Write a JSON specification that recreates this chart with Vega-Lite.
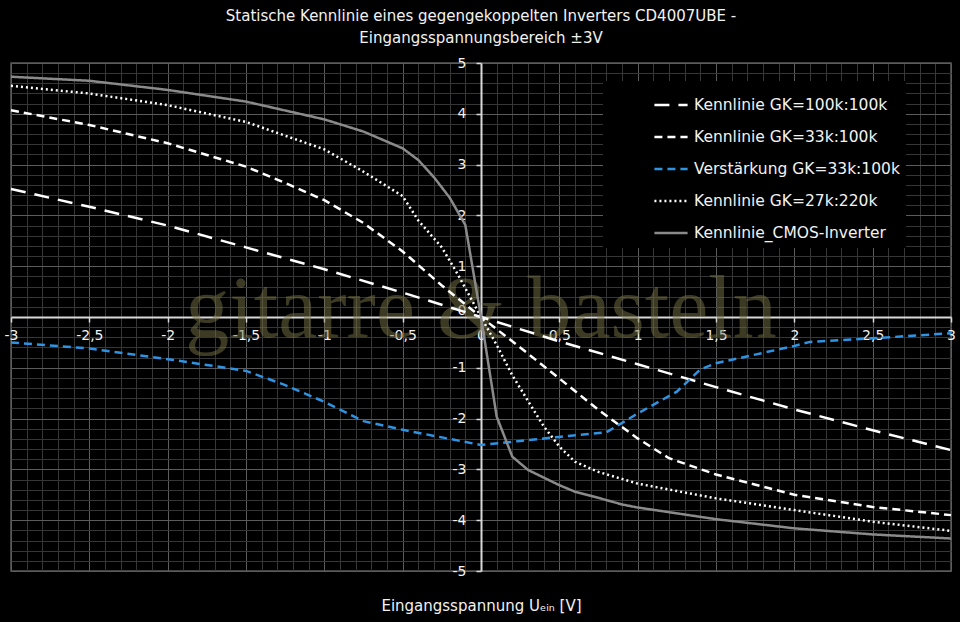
{
  "$schema": "https://vega.github.io/schema/vega-lite/v6.json",
  "width": 940,
  "height": 508,
  "autosize": "none",
  "padding": {"left": 11, "top": 63, "right": 9, "bottom": 51},
  "background": "black",
  "title": {
    "text": ["Statische Kennlinie eines gegengekoppelten Inverters CD4007UBE -", "Eingangsspannungsbereich ±3V"],
    "font": "DejaVu Sans",
    "fontSize": 15,
    "fontWeight": "normal",
    "color": "#f2f2f2",
    "lineHeight": 22,
    "anchor": "middle",
    "frame": "group",
    "offset": 10
  },
  "config": {
    "font": "DejaVu Sans",
    "view": {"stroke": "#5a5a5a", "strokeWidth": 1.5}
  },
  "data": {
    "values": [
      {"s": "Kennlinie GK=100k:100k", "x": -3, "y": 2.52},
      {"s": "Kennlinie GK=100k:100k", "x": -2.5, "y": 2.17},
      {"s": "Kennlinie GK=100k:100k", "x": -2, "y": 1.8},
      {"s": "Kennlinie GK=100k:100k", "x": -1.5, "y": 1.37},
      {"s": "Kennlinie GK=100k:100k", "x": -1, "y": 0.94},
      {"s": "Kennlinie GK=100k:100k", "x": -0.5, "y": 0.48},
      {"s": "Kennlinie GK=100k:100k", "x": 0, "y": 0},
      {"s": "Kennlinie GK=100k:100k", "x": 0.5, "y": -0.48},
      {"s": "Kennlinie GK=100k:100k", "x": 1, "y": -0.93},
      {"s": "Kennlinie GK=100k:100k", "x": 1.5, "y": -1.38},
      {"s": "Kennlinie GK=100k:100k", "x": 2, "y": -1.82},
      {"s": "Kennlinie GK=100k:100k", "x": 2.5, "y": -2.23},
      {"s": "Kennlinie GK=100k:100k", "x": 3, "y": -2.62},

      {"s": "Kennlinie GK=33k:100k", "x": -3, "y": 4.07},
      {"s": "Kennlinie GK=33k:100k", "x": -2.5, "y": 3.78},
      {"s": "Kennlinie GK=33k:100k", "x": -2, "y": 3.42},
      {"s": "Kennlinie GK=33k:100k", "x": -1.5, "y": 2.96},
      {"s": "Kennlinie GK=33k:100k", "x": -1.25, "y": 2.64},
      {"s": "Kennlinie GK=33k:100k", "x": -1, "y": 2.3},
      {"s": "Kennlinie GK=33k:100k", "x": -0.75, "y": 1.85},
      {"s": "Kennlinie GK=33k:100k", "x": -0.5, "y": 1.29},
      {"s": "Kennlinie GK=33k:100k", "x": -0.25, "y": 0.62},
      {"s": "Kennlinie GK=33k:100k", "x": 0, "y": 0},
      {"s": "Kennlinie GK=33k:100k", "x": 0.25, "y": -0.6},
      {"s": "Kennlinie GK=33k:100k", "x": 0.5, "y": -1.21},
      {"s": "Kennlinie GK=33k:100k", "x": 0.75, "y": -1.83},
      {"s": "Kennlinie GK=33k:100k", "x": 1, "y": -2.39},
      {"s": "Kennlinie GK=33k:100k", "x": 1.2, "y": -2.78},
      {"s": "Kennlinie GK=33k:100k", "x": 1.5, "y": -3.1},
      {"s": "Kennlinie GK=33k:100k", "x": 2, "y": -3.5},
      {"s": "Kennlinie GK=33k:100k", "x": 2.5, "y": -3.74},
      {"s": "Kennlinie GK=33k:100k", "x": 3, "y": -3.9},

      {"s": "Verstärkung GK=33k:100k", "x": -3, "y": -0.5},
      {"s": "Verstärkung GK=33k:100k", "x": -2.5, "y": -0.62},
      {"s": "Verstärkung GK=33k:100k", "x": -2, "y": -0.83},
      {"s": "Verstärkung GK=33k:100k", "x": -1.5, "y": -1.06},
      {"s": "Verstärkung GK=33k:100k", "x": -1.25, "y": -1.34},
      {"s": "Verstärkung GK=33k:100k", "x": -1, "y": -1.67},
      {"s": "Verstärkung GK=33k:100k", "x": -0.75, "y": -2.05},
      {"s": "Verstärkung GK=33k:100k", "x": -0.5, "y": -2.22},
      {"s": "Verstärkung GK=33k:100k", "x": -0.25, "y": -2.37},
      {"s": "Verstärkung GK=33k:100k", "x": 0, "y": -2.52},
      {"s": "Verstärkung GK=33k:100k", "x": 0.25, "y": -2.44},
      {"s": "Verstärkung GK=33k:100k", "x": 0.5, "y": -2.36},
      {"s": "Verstärkung GK=33k:100k", "x": 0.8, "y": -2.27},
      {"s": "Verstärkung GK=33k:100k", "x": 1, "y": -1.9},
      {"s": "Verstärkung GK=33k:100k", "x": 1.25, "y": -1.47},
      {"s": "Verstärkung GK=33k:100k", "x": 1.4, "y": -1.03},
      {"s": "Verstärkung GK=33k:100k", "x": 1.5, "y": -0.91},
      {"s": "Verstärkung GK=33k:100k", "x": 2, "y": -0.57},
      {"s": "Verstärkung GK=33k:100k", "x": 2.1, "y": -0.49},
      {"s": "Verstärkung GK=33k:100k", "x": 2.5, "y": -0.42},
      {"s": "Verstärkung GK=33k:100k", "x": 3, "y": -0.32},

      {"s": "Kennlinie GK=27k:220k", "x": -3, "y": 4.55},
      {"s": "Kennlinie GK=27k:220k", "x": -2.5, "y": 4.4},
      {"s": "Kennlinie GK=27k:220k", "x": -2, "y": 4.17},
      {"s": "Kennlinie GK=27k:220k", "x": -1.5, "y": 3.84},
      {"s": "Kennlinie GK=27k:220k", "x": -1, "y": 3.3},
      {"s": "Kennlinie GK=27k:220k", "x": -0.75, "y": 2.86},
      {"s": "Kennlinie GK=27k:220k", "x": -0.5, "y": 2.38},
      {"s": "Kennlinie GK=27k:220k", "x": -0.4, "y": 1.9},
      {"s": "Kennlinie GK=27k:220k", "x": -0.25, "y": 1.37},
      {"s": "Kennlinie GK=27k:220k", "x": -0.15, "y": 0.85},
      {"s": "Kennlinie GK=27k:220k", "x": 0, "y": 0},
      {"s": "Kennlinie GK=27k:220k", "x": 0.1, "y": -0.55},
      {"s": "Kennlinie GK=27k:220k", "x": 0.2, "y": -1.15},
      {"s": "Kennlinie GK=27k:220k", "x": 0.3, "y": -1.65},
      {"s": "Kennlinie GK=27k:220k", "x": 0.4, "y": -2.15},
      {"s": "Kennlinie GK=27k:220k", "x": 0.5, "y": -2.55},
      {"s": "Kennlinie GK=27k:220k", "x": 0.6, "y": -2.85},
      {"s": "Kennlinie GK=27k:220k", "x": 0.75, "y": -3.05},
      {"s": "Kennlinie GK=27k:220k", "x": 1, "y": -3.28},
      {"s": "Kennlinie GK=27k:220k", "x": 1.5, "y": -3.57},
      {"s": "Kennlinie GK=27k:220k", "x": 2, "y": -3.8},
      {"s": "Kennlinie GK=27k:220k", "x": 2.5, "y": -4.03},
      {"s": "Kennlinie GK=27k:220k", "x": 3, "y": -4.21},

      {"s": "Kennlinie_CMOS-Inverter", "x": -3, "y": 4.73},
      {"s": "Kennlinie_CMOS-Inverter", "x": -2.5, "y": 4.65},
      {"s": "Kennlinie_CMOS-Inverter", "x": -2, "y": 4.47},
      {"s": "Kennlinie_CMOS-Inverter", "x": -1.5, "y": 4.24},
      {"s": "Kennlinie_CMOS-Inverter", "x": -1, "y": 3.89},
      {"s": "Kennlinie_CMOS-Inverter", "x": -0.75, "y": 3.65},
      {"s": "Kennlinie_CMOS-Inverter", "x": -0.5, "y": 3.32},
      {"s": "Kennlinie_CMOS-Inverter", "x": -0.4, "y": 3.09},
      {"s": "Kennlinie_CMOS-Inverter", "x": -0.3, "y": 2.75},
      {"s": "Kennlinie_CMOS-Inverter", "x": -0.2, "y": 2.35},
      {"s": "Kennlinie_CMOS-Inverter", "x": -0.1, "y": 1.81},
      {"s": "Kennlinie_CMOS-Inverter", "x": 0, "y": 0},
      {"s": "Kennlinie_CMOS-Inverter", "x": 0.1, "y": -1.96},
      {"s": "Kennlinie_CMOS-Inverter", "x": 0.2, "y": -2.75},
      {"s": "Kennlinie_CMOS-Inverter", "x": 0.3, "y": -3.01},
      {"s": "Kennlinie_CMOS-Inverter", "x": 0.5, "y": -3.31},
      {"s": "Kennlinie_CMOS-Inverter", "x": 0.6, "y": -3.44},
      {"s": "Kennlinie_CMOS-Inverter", "x": 0.75, "y": -3.56},
      {"s": "Kennlinie_CMOS-Inverter", "x": 0.9, "y": -3.69},
      {"s": "Kennlinie_CMOS-Inverter", "x": 1, "y": -3.75},
      {"s": "Kennlinie_CMOS-Inverter", "x": 1.5, "y": -3.98},
      {"s": "Kennlinie_CMOS-Inverter", "x": 2, "y": -4.16},
      {"s": "Kennlinie_CMOS-Inverter", "x": 2.5, "y": -4.28},
      {"s": "Kennlinie_CMOS-Inverter", "x": 3, "y": -4.36}
    ]
  },
  "layer": [
    {
      "mark": {"type": "line", "opacity": 0},
      "encoding": {
        "detail": {"field": "s"},
        "x": {
          "field": "x", "type": "quantitative",
          "scale": {"domain": [-3, 3], "nice": false, "zero": false},
          "axis": {
            "orient": "bottom", "title": null, "labels": false, "ticks": false, "domain": false,
            "grid": true, "gridColor": "#363636", "gridWidth": 1,
            "values": [-3,-2.9,-2.8,-2.7,-2.6,-2.5,-2.4,-2.3,-2.2,-2.1,-2,-1.9,-1.8,-1.7,-1.6,-1.5,-1.4,-1.3,-1.2,-1.1,-1,-0.9,-0.8,-0.7,-0.6,-0.5,-0.4,-0.3,-0.2,-0.1,0,0.1,0.2,0.3,0.4,0.5,0.6,0.7,0.8,0.9,1,1.1,1.2,1.3,1.4,1.5,1.6,1.7,1.8,1.9,2,2.1,2.2,2.3,2.4,2.5,2.6,2.7,2.8,2.9,3]
          }
        },
        "y": {
          "field": "y", "type": "quantitative",
          "scale": {"domain": [-5, 5], "nice": false, "zero": false},
          "axis": {
            "orient": "left", "title": null, "labels": false, "ticks": false, "domain": false,
            "grid": true, "gridColor": "#363636", "gridWidth": 1,
            "values": [-5,-4.8,-4.6,-4.4,-4.2,-4,-3.8,-3.6,-3.4,-3.2,-3,-2.8,-2.6,-2.4,-2.2,-2,-1.8,-1.6,-1.4,-1.2,-1,-0.8,-0.6,-0.4,-0.2,0,0.2,0.4,0.6,0.8,1,1.2,1.4,1.6,1.8,2,2.2,2.4,2.6,2.8,3,3.2,3.4,3.6,3.8,4,4.2,4.4,4.6,4.8,5]
          }
        }
      }
    },
    {
      "mark": {"type": "line", "opacity": 0},
      "encoding": {
        "detail": {"field": "s"},
        "x": {
          "field": "x", "type": "quantitative",
          "axis": {
            "orient": "bottom", "title": null, "labels": false, "ticks": false, "domain": false,
            "grid": true, "gridColor": "#5c5c5c", "gridWidth": 1,
            "values": [-3,-2.5,-2,-1.5,-1,-0.5,0,0.5,1,1.5,2,2.5,3]
          }
        },
        "y": {
          "field": "y", "type": "quantitative",
          "axis": {
            "orient": "left", "title": null, "labels": false, "ticks": false, "domain": false,
            "grid": true, "gridColor": "#5c5c5c", "gridWidth": 1,
            "values": [-5,-4,-3,-2,-1,0,1,2,3,4,5]
          }
        }
      }
    },
    {
      "data": {"values": [{"wm": "gitarre & basteln"}]},
      "mark": {"type": "text", "font": "Liberation Serif", "fontSize": 88, "fill": "#7a7548", "opacity": 0.5, "align": "center", "baseline": "middle", "dy": -6},
      "encoding": {
        "text": {"field": "wm"},
        "x": {"datum": 0, "type": "quantitative", "axis": null},
        "y": {"datum": 0, "type": "quantitative", "axis": null}
      }
    },
    {
      "mark": {"type": "line", "strokeWidth": 2.5},
      "encoding": {
        "x": {
          "field": "x", "type": "quantitative",
          "axis": {
            "orient": "bottom", "offset": -254, "grid": false,
            "values": [-3,-2.5,-2,-1.5,-1,-0.5,0,0.5,1,1.5,2,2.5,3],
            "domainColor": "#d9d9d9", "domainWidth": 2,
            "tickColor": "#d9d9d9", "tickSize": 5, "tickWidth": 1.5,
            "labelColor": "#f2f2f2", "labelFontSize": 14, "labelPadding": 6,
            "labelFlush": false, "labelOverlap": false,
            "labelExpr": "replace(toString(datum.value), '.', ',')",
            "title": "Eingangsspannung Uₑᵢₙ [V]",
            "titleColor": "#f2f2f2", "titleFontSize": 15, "titleFontWeight": "normal",
            "titleY": 288, "titleBaseline": "middle"
          }
        },
        "y": {
          "field": "y", "type": "quantitative",
          "axis": {
            "orient": "left", "offset": -470, "grid": false,
            "values": [-5,-4,-3,-2,-1,0,1,2,3,4,5],
            "domainColor": "#d9d9d9", "domainWidth": 2,
            "tickColor": "#d9d9d9", "tickSize": 5, "tickWidth": 1.5,
            "labelColor": "#f2f2f2", "labelFontSize": 14, "labelPadding": 10,
            "labelExpr": "replace(toString(datum.value), '.', ',')",
            "labelBaseline": {"condition": {"test": "datum.value === 0", "value": "bottom"}, "value": "middle"},
            "title": null
          }
        },
        "color": {
          "field": "s", "type": "nominal",
          "scale": {
            "domain": ["Kennlinie GK=100k:100k", "Kennlinie GK=33k:100k", "Verstärkung GK=33k:100k", "Kennlinie GK=27k:220k", "Kennlinie_CMOS-Inverter"],
            "range": ["#ffffff", "#ffffff", "#2f93e4", "#ffffff", "#8a8a8a"]
          },
          "legend": {
            "title": null, "orient": "none", "legendX": 592, "legendY": 18,
            "fillColor": "black", "padding": 6, "symbolOffset": 44,
            "symbolType": "stroke", "symbolSize": 1100, "symbolStrokeWidth": 2.5,
            "labelColor": "#f2f2f2", "labelFontSize": 15.5, "labelLimit": 400, "labelOffset": 5,
            "rowPadding": 5
          }
        },
        "strokeDash": {
          "field": "s", "type": "nominal",
          "scale": {
            "domain": ["Kennlinie GK=100k:100k", "Kennlinie GK=33k:100k", "Verstärkung GK=33k:100k", "Kennlinie GK=27k:220k", "Kennlinie_CMOS-Inverter"],
            "range": [[15, 9], [8, 5], [8, 5], [2, 3], [1, 0]]
          },
          "legend": {
            "title": null, "orient": "none", "legendX": 592, "legendY": 18,
            "fillColor": "black", "padding": 6, "symbolOffset": 44,
            "symbolType": "stroke", "symbolSize": 1100, "symbolStrokeWidth": 2.5,
            "labelColor": "#f2f2f2", "labelFontSize": 15.5, "labelLimit": 400, "labelOffset": 5,
            "rowPadding": 5
          }
        }
      }
    }
  ],
  "resolve": {"axis": {"x": "independent", "y": "independent"}}
}
